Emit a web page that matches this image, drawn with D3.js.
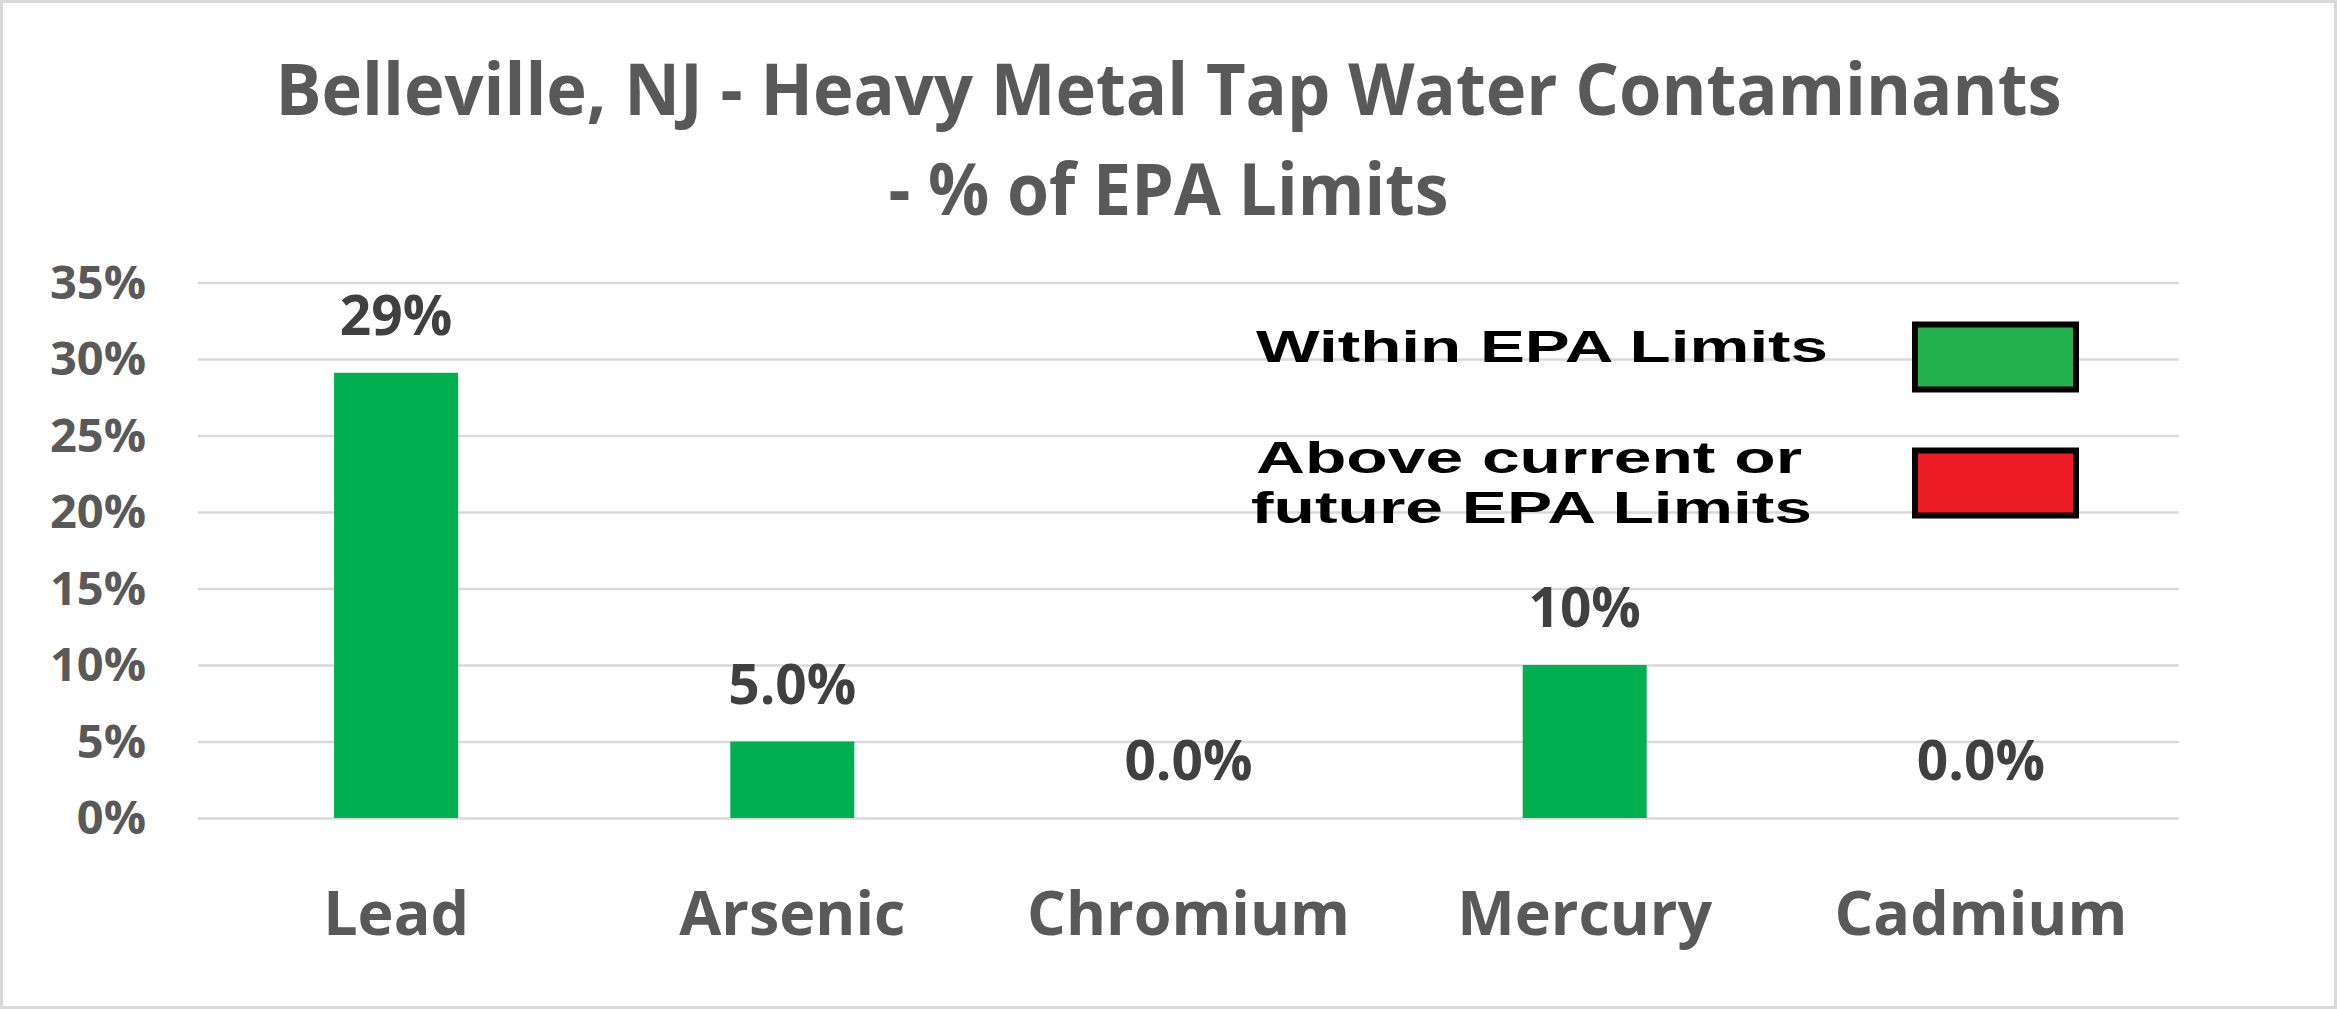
<!DOCTYPE html>
<html>
<head>
<meta charset="utf-8">
<script src="https://cdn.jsdelivr.net/npm/d3@7.9.0/dist/d3.min.js"></script>
<style>
  html, body { margin: 0; padding: 0; background: #fff; }
  svg { display: block; }
</style>
</head>
<body>
<div id="chart"></div>
<script>
const metals = ['Lead', 'Arsenic', 'Chromium', 'Mercury', 'Cadmium'];
const percentOfLimit = [0.291, 0.05, 0, 0.10, 0];
const valueLabels = ['29%', '5.0%', '0.0%', '10%', '0.0%'];
const titleLines = ['Belleville, NJ - Heavy Metal Tap Water Contaminants', '- % of EPA Limits'];
const legendItems = [
  { lines: ['Within  EPA Limits'], color: '#22b14c' },
  { lines: ['Above current or', 'future  EPA Limits'], color: '#ed1c24' },
];

const width = 2337;
const height = 1009;
const margin = { top: 282.5, right: 158, bottom: 191, left: 198 };

const svg = d3.select('#chart')
  .append('svg')
  .attr('width', width)
  .attr('height', height)
  .attr('viewBox', `0 0 ${width} ${height}`);

svg.append('rect')
  .attr('x', 1.5).attr('y', 1.5)
  .attr('width', width - 3).attr('height', height - 3)
  .attr('fill', '#fff')
  .attr('stroke', '#d9d9d9')
  .attr('stroke-width', 3);

// title
const titleWidths = [1786, 560];
svg.append('g')
  .selectAll('text')
  .data(titleLines)
  .join('text')
  .attr('x', width / 2)
  .attr('y', (d, i) => 115 + i * 100)
  .attr('text-anchor', 'middle')
  .attr('font-family', '"Open Sans", sans-serif')
  .attr('font-weight', 700)
  .attr('font-size', 72)
  .attr('fill', '#595959')
  .attr('textLength', (d, i) => titleWidths[i])
  .attr('lengthAdjust', 'spacingAndGlyphs')
  .text(d => d);

const xScale = d3.scaleBand()
  .domain(metals)
  .range([margin.left, width - margin.right])
  .paddingInner(0.687)
  .paddingOuter(0.3435);

const yScale = d3.scaleLinear()
  .domain([0, 0.35])
  .range([height - margin.bottom, margin.top]);

const plotWidth = width - margin.left - margin.right;

const yAxis = d3.axisLeft(yScale)
  .ticks(7)
  .tickFormat(d3.format('.0%'))
  .tickSize(-plotWidth)
  .tickPadding(52);

const yg = svg.append('g')
  .attr('class', 'y-axis')
  .attr('transform', `translate(${margin.left}, 0)`)
  .call(yAxis);

yg.select('.domain').remove();
yg.selectAll('.tick line')
  .attr('stroke', '#d9d9d9')
  .attr('stroke-width', 2.5);
yg.selectAll('.tick text')
  .attr('font-family', '"Open Sans", sans-serif')
  .attr('font-weight', 700)
  .attr('font-size', 47)
  .attr('fill', '#595959')
  .attr('dy', '0.33em');

// bars
svg.append('g')
  .selectAll('rect')
  .data(metals)
  .join('rect')
  .attr('x', d => xScale(d))
  .attr('width', xScale.bandwidth())
  .attr('y', (d, i) => yScale(percentOfLimit[i]))
  .attr('height', (d, i) => yScale(0) - yScale(percentOfLimit[i]))
  .attr('fill', '#00b050');

// value labels
svg.append('g')
  .selectAll('text')
  .data(metals)
  .join('text')
  .attr('x', d => xScale(d) + xScale.bandwidth() / 2)
  .attr('y', (d, i) => yScale(percentOfLimit[i]) - 38)
  .attr('text-anchor', 'middle')
  .attr('font-family', '"Open Sans", sans-serif')
  .attr('font-weight', 700)
  .attr('font-size', 55)
  .attr('fill', '#404040')
  .text((d, i) => valueLabels[i]);

// category labels
const xAxis = d3.axisBottom(xScale).tickSize(0).tickPadding(0);
const xg = svg.append('g')
  .attr('class', 'x-axis')
  .attr('transform', `translate(0, ${yScale(0)})`)
  .call(xAxis);
xg.select('.domain').remove();
xg.selectAll('.tick text')
  .attr('y', 117)
  .attr('dy', 0)
  .attr('font-family', '"Open Sans", sans-serif')
  .attr('font-weight', 700)
  .attr('font-size', 61)
  .attr('fill', '#595959');

// legend (stretched text, like the pasted image)
const legendTextWidths = [[572], [546, 561]];
const legendBaselines = [[362], [473, 523]];
const legendBoxY = [322, 448];
const legend = svg.append('g').attr('class', 'legend');
legendItems.forEach((item, i) => {
  item.lines.forEach((line, j) => {
    legend.append('text')
      .attr('x', j === 1 ? 1251 : 1256)
      .attr('y', legendBaselines[i][j])
      .attr('font-family', '"Liberation Sans", Arial, sans-serif')
      .attr('font-weight', 700)
      .attr('font-size', 44)
      .attr('fill', '#000')
      .attr('textLength', legendTextWidths[i][j])
      .attr('lengthAdjust', 'spacingAndGlyphs')
      .text(line);
  });
  legend.append('rect')
    .attr('x', 1915)
    .attr('y', legendBoxY[i] + 2.5)
    .attr('width', 161)
    .attr('height', 65)
    .attr('fill', item.color)
    .attr('stroke', '#000')
    .attr('stroke-width', 6);
});
</script>
</body>
</html>
